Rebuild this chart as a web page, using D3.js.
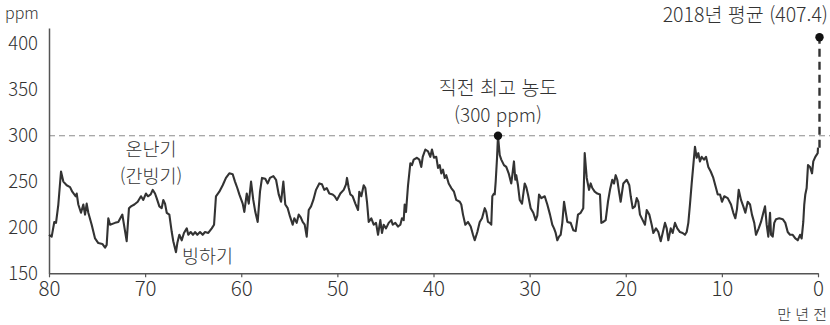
<!DOCTYPE html>
<html lang="ko">
<head>
<meta charset="utf-8">
<script src="https://cdn.jsdelivr.net/npm/d3@7"></script>
<style>
  html, body { margin: 0; padding: 0; background: #fff; }
  svg { display: block; font-family: "Noto Sans CJK KR", "Noto Sans", sans-serif; font-weight: 300; }
  svg text { font-weight: 300; }
</style>
</head>
<body>
<svg id="chart" width="830" height="325"></svg>
<script>
// Atmospheric CO2 over the last 800,000 years (ice-core record), in units of 10,000 years ago
const ageTenKyr = [
  80.00,79.72,79.45,79.27,79.03,78.75,78.51,78.16,77.81,77.58,77.22,77.12,76.95,76.67,76.43,76.25,76.08,75.91,75.56,75.21,
  74.87,74.45,74.17,74.00,73.83,73.65,73.13,72.79,72.37,72.20,71.92,71.68,71.47,71.12,70.77,70.43,70.19,69.91,69.70,69.42,
  69.21,68.97,68.80,68.52,68.28,68.11,67.93,67.75,67.48,67.23,67.07,66.79,66.65,66.44,66.19,65.96,65.67,65.51,65.26,65.02,
  64.81,64.57,64.29,64.01,63.77,63.43,63.07,62.83,62.63,62.28,61.93,61.59,61.24,60.89,60.65,60.41,60.20,59.85,59.68,59.43,
  59.22,58.98,58.75,58.54,58.29,58.05,57.84,57.50,57.25,57.01,56.66,56.38,56.10,55.86,55.62,55.42,55.17,54.93,54.65,54.48,
  54.23,54.02,53.81,53.61,53.40,53.19,52.98,52.74,52.50,52.22,51.88,51.60,51.36,51.11,50.84,50.49,50.28,50.04,49.69,49.34,
  49.10,49.00,48.82,48.65,48.41,48.13,47.85,47.72,47.51,47.26,47.09,46.92,46.74,46.47,46.22,45.98,45.77,45.53,45.36,45.18,
  44.94,44.66,44.39,44.24,43.97,43.69,43.45,43.28,43.10,43.00,42.86,42.65,42.41,42.24,42.06,41.72,41.48,41.27,41.12,40.85,
  40.57,40.33,40.16,39.95,39.71,39.53,39.35,39.19,39.01,38.83,38.67,38.42,38.15,37.87,37.63,37.27,37.11,36.93,36.69,36.41,
  36.13,35.89,35.71,35.44,35.19,34.95,34.67,34.51,34.33,34.15,33.99,33.88,33.71,33.63,33.53,33.39,33.29,33.11,32.95,32.67,
  32.43,32.18,31.91,31.80,31.63,31.49,31.39,31.21,31.03,30.79,30.51,30.35,30.17,29.89,29.62,29.37,29.20,29.02,28.78,28.43,
  28.16,27.88,27.64,27.46,27.29,27.12,26.94,26.77,26.60,26.42,26.25,26.08,25.73,25.46,25.21,24.97,24.69,24.42,24.27,24.06,
  23.82,23.65,23.48,23.23,22.96,22.68,22.54,22.34,22.09,21.85,21.64,21.40,21.22,21.05,20.88,20.70,20.53,20.25,19.90,19.63,
  19.48,19.28,19.04,18.86,18.69,18.52,18.24,18.00,17.82,17.55,17.30,17.13,16.85,16.61,16.36,16.16,15.92,15.74,15.57,15.32,
  15.12,14.88,14.64,14.36,14.08,13.84,13.66,13.49,13.32,13.14,12.97,12.80,12.62,12.45,12.28,12.10,11.86,11.65,11.41,11.16,
  10.89,10.61,10.43,10.19,9.99,9.75,9.39,9.05,8.81,8.60,8.43,8.25,8.01,7.77,7.56,7.31,7.07,6.87,6.63,6.45,
  6.17,5.93,5.69,5.51,5.34,5.17,4.99,4.89,4.71,4.55,4.37,4.03,3.67,3.40,3.15,2.91,2.63,2.36,2.11,1.87,
  1.70,1.53,1.43,1.32,1.18,1.04,0.83,0.62,0.49,0.28,0.03,0.00
];
const co2Ppm = [
  192,190,206,205,225,261,250,246,244,239,234,237,225,216,225,214,226,216,203,188,
  183,182,178,181,210,203,205,206,214,203,185,221,223,225,228,234,230,237,234,236,
  241,237,232,223,221,230,226,216,214,195,185,173,183,192,186,194,199,192,195,192,
  195,192,195,192,195,194,199,203,234,239,246,254,259,258,250,243,236,226,217,237,
  226,250,230,217,206,239,254,253,248,254,256,252,236,228,250,225,221,212,203,210,
  205,214,211,206,203,190,219,223,230,241,248,247,241,243,237,236,234,230,237,241,
  247,254,243,236,234,226,219,239,234,246,243,228,206,210,203,205,192,208,194,203,
  199,205,208,203,205,201,203,210,208,225,217,246,270,268,274,276,274,266,277,285,
  283,277,285,276,277,265,268,259,263,254,257,248,243,239,230,228,225,214,203,206,
  201,192,186,195,206,210,221,217,206,205,203,234,237,236,250,276,300,279,274,268,
  266,259,248,257,272,252,257,246,230,226,248,244,236,221,216,208,213,236,232,234,
  225,214,203,199,194,186,190,192,205,228,217,206,205,197,196,214,216,221,281,254,
  241,248,243,239,237,236,205,206,208,228,241,252,248,257,252,239,228,248,252,246,
  234,221,223,232,228,214,208,203,219,214,203,194,199,195,185,194,205,199,186,199,
  194,205,199,195,194,192,195,205,225,248,268,288,276,281,272,277,274,277,266,261,
  254,243,236,236,228,234,232,225,216,210,220,241,230,223,216,228,225,214,205,192,
  199,206,216,223,203,190,216,192,190,205,209,210,209,205,195,192,192,188,186,192,
  188,206,225,236,243,268,266,259,272,277,281,287
];

const xTickValues = [80, 70, 60, 50, 40, 30, 20, 10, 0];
const yTickValues = [150, 200, 250, 300, 350, 400];

// Highlighted values
const previousPeakAge = 33.29;
const previousPeakPpm = 300;
const modernAge = 0;
const modernPpm = 407.4;

const svg = d3.select("#chart");
const textColor = "#333";
const fontStack = "'Noto Sans CJK KR', 'Noto Sans', sans-serif";

const x = d3.scaleLinear().domain([80, 0]).range([49, 818]);
const y = d3.scaleLinear().domain([150, 417.5]).range([273.3, 28]);

// Reference line at the previous highest concentration
svg.append("line")
  .attr("x1", x(80)).attr("x2", 830)
  .attr("y1", y(previousPeakPpm)).attr("y2", y(previousPeakPpm))
  .attr("stroke", "#8c8c8c").attr("stroke-width", 1.2)
  .attr("stroke-dasharray", "6,4");

// Axes
const yAxis = svg.append("g")
  .attr("transform", `translate(${x(80)},0)`)
  .call(d3.axisLeft(y).tickValues(yTickValues).tickSize(0).tickPadding(11).tickSizeOuter(0));
yAxis.select(".domain").attr("stroke", "#555").attr("stroke-width", 1.5);
yAxis.selectAll("text").attr("font-size", 18.5).attr("fill", textColor)
  .attr("font-family", fontStack).attr("font-weight", 300);

const xAxis = svg.append("g")
  .attr("transform", `translate(0,${y(150)})`)
  .call(d3.axisBottom(x).tickValues(xTickValues).tickSize(4).tickPadding(4.5).tickSizeOuter(0));
xAxis.select(".domain").attr("stroke", "#555").attr("stroke-width", 1.5);
xAxis.selectAll(".tick line").attr("stroke", "#555").attr("stroke-width", 1.2);
xAxis.selectAll("text").attr("font-size", 20.5).attr("fill", textColor)
  .attr("font-family", fontStack).attr("font-weight", 300);

// CO2 record
const series = ageTenKyr.map((a, i) => ({ age: a, ppm: co2Ppm[i] }));
svg.append("path")
  .datum(series)
  .attr("fill", "none")
  .attr("stroke", "#333")
  .attr("stroke-width", 2.1)
  .attr("stroke-linejoin", "round")
  .attr("d", d3.line().x(d => x(d.age)).y(d => y(d.ppm)));

// Jump from the end of the record to the 2018 average
svg.append("line")
  .attr("x1", x(modernAge) + 1.5).attr("x2", x(modernAge) + 1.5)
  .attr("y1", y(co2Ppm[co2Ppm.length - 1])).attr("y2", y(modernPpm))
  .attr("stroke", "#333").attr("stroke-width", 2.4)
  .attr("stroke-dasharray", "8,5");

svg.append("circle")
  .attr("cx", x(modernAge) + 1.5).attr("cy", y(modernPpm)).attr("r", 4.2)
  .attr("fill", "#111");
svg.append("circle")
  .attr("cx", x(previousPeakAge)).attr("cy", y(previousPeakPpm)).attr("r", 4.2)
  .attr("fill", "#111");

// Labels
function label(txt, px, py, size, anchor) {
  svg.append("text")
    .attr("x", px).attr("y", py).attr("dy", "0.35em")
    .attr("text-anchor", anchor || "middle")
    .attr("font-size", size)
    .attr("font-weight", 300)
    .attr("fill", textColor)
    .text(txt);
}
label("ppm", 5, 13, 16, "start");
label("만 년 전", 827, 315, 15, "end");
label(`2018년 평균 (${modernPpm})`, 828, 15, 19.5, "end");
label("직전 최고 농도", x(previousPeakAge), 88, 19.5);
label(`(${previousPeakPpm} ppm)`, x(previousPeakAge), 115, 19);
label("온난기", 151, 150, 18.5);
label("(간빙기)", 151, 176.5, 18.5);
label("빙하기", 182, 256.5, 18.5, "start");
</script>
</body>
</html>
